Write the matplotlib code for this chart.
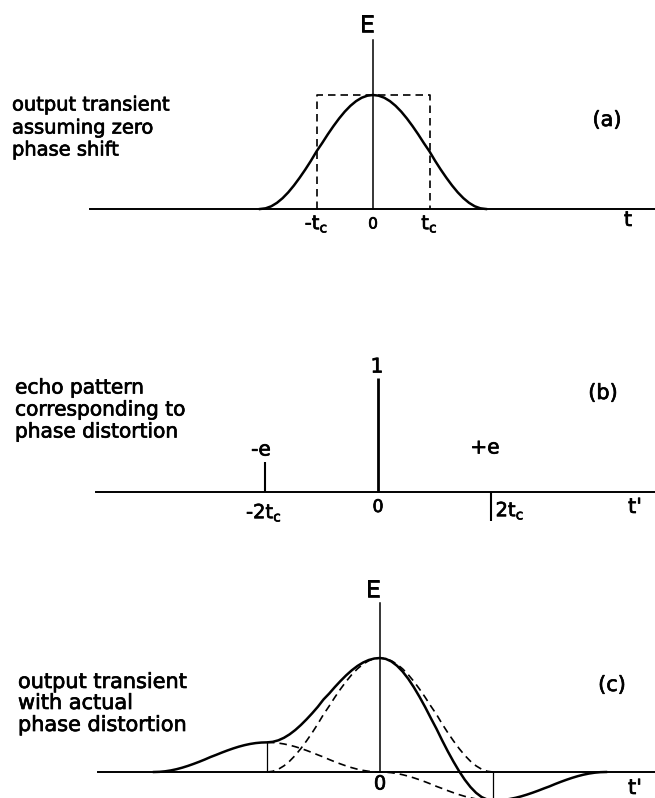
'''
Phase distortion sketch: ideal transient, echo pattern, distorted transient
'''
import numpy as np
import matplotlib
matplotlib.use('Agg')
from matplotlib import pyplot as plt
from matplotlib import patheffects

plt.rcParams['font.family'] = ['DejaVu Sans']
plt.rcParams['mathtext.default'] = 'regular'

# Half of the output pulse in (a)
# t in units of t_c, E relative to the peak
PULSE_T = [0.0, 0.1, 0.2, 0.3, 0.4, 0.5, 0.6, 0.7, 0.8, 0.9, 1.0,
           1.1, 1.2, 1.3, 1.4, 1.5, 1.6, 1.7, 1.8, 1.9, 2.0]
PULSE_E = [1.000, 0.994, 0.976, 0.946, 0.905, 0.854, 0.794, 0.727, 0.655, 0.578, 0.505,
           0.422, 0.345, 0.273, 0.206, 0.146, 0.095, 0.054, 0.024, 0.006, 0.000]

# Echo pattern in (b): position (units of t_c) and amplitude
ECHO_T = [-2.0, 0.0, 2.0]
ECHO_AMP = [0.26, 1.0, -0.25]
ECHO_LABELS = ['-e', '1', '+e']

# Tick labels on the time axes
TICKS_A = [-1.0, 0.0, 1.0]
TICK_LABELS_A = ['-t$_c$', '0', 't$_c$']
TICKS_B = [-2.0, 0.0, 2.0]
TICK_LABELS_B = ['-2t$_c$', '0', '2t$_c$']

CAPTION_A = ['output transient', 'assuming zero', 'phase shift']
CAPTION_B = ['echo pattern', 'corresponding to', 'phase distortion']
CAPTION_C = ['output transient', 'with actual', 'phase distortion']

W, H = 655, 798
SX = 56.5    # pixels per t_c
SY = 114.0   # pixels per unit of E
DASH = (0, (4.5, 3.0))
PEN = [patheffects.withStroke(linewidth=0.5, foreground='black')]

fig = plt.figure(figsize=(W / 100, H / 100), dpi=100)


def panel(x0, y0):
    '''Transparent axes over the whole figure, origin at pixel (x0, y0)'''
    ax = fig.add_axes([0, 0, 1, 1])
    ax.set_xlim(-x0 / SX, (W - x0) / SX)
    ax.set_ylim(-(H - y0) / SY, y0 / SY)
    ax.axis('off')
    # time axis
    ax.plot([-5.0, (W - x0) / SX], [0, 0], color='black', lw=1.4)
    return ax


def put(px, py, text, size, ha='center'):
    '''Write text at a pixel position'''
    fig.text(px / W, 1 - py / H, text, fontsize=size, ha=ha, va='center',
             path_effects=PEN)


def caption(px, rows_y, lines, size):
    for py, line in zip(rows_y, lines):
        put(px, py, line, size, ha='left')


# Full symmetric pulse
pulse_t = np.array([-t for t in PULSE_T[:0:-1]] + PULSE_T)
pulse_e = np.array(PULSE_E[:0:-1] + PULSE_E)


def pulse(t):
    return np.interp(t, pulse_t, pulse_e, left=0.0, right=0.0)


# ---------------- (a) ----------------
X0A, Y0A = 373, 209
ax_a = panel(X0A, Y0A)
ax_a.plot([0, 0], [0, 1.48], color='black', lw=1.1)
ax_a.plot(pulse_t, pulse_e, color='black', lw=1.8, solid_joinstyle='round')
ax_a.plot([TICKS_A[0], TICKS_A[0], TICKS_A[-1], TICKS_A[-1]], [0, 1, 1, 0],
          color='black', lw=1.2, linestyle=DASH)
put(367, 25, 'E', 17)
for t, lab in zip(TICKS_A, TICK_LABELS_A):
    put(X0A + t * SX, 224, lab, 11 if lab == '0' else 14)
put(628, 220, 't', 15)
put(607, 120, '(a)', 15)
caption(12, [105, 128, 150], CAPTION_A, 14)

# ---------------- (b) ----------------
X0B, Y0B = 378, 492
ax_b = panel(X0B, Y0B)
ax_b.vlines(ECHO_T, 0, ECHO_AMP, color='black', lw=[1.5, 2.0, 1.5])
for t, lab, dx, py in zip(ECHO_T, ECHO_LABELS, [-4, -1, -6], [450, 367, 448]):
    put(X0B + t * SX + dx, py, lab, 14.5)
for t, lab, dx, py in zip(TICKS_B, TICK_LABELS_B, [-1, 0, 19], [513, 507, 511]):
    put(X0B + t * SX + dx, py, lab, 12.5 if lab == '0' else 14)
put(635, 507, "t'", 15)
put(603, 393, '(b)', 15)
caption(15, [388, 410, 432], CAPTION_B, 14.5)

# ---------------- (c) ----------------
X0C, Y0C = 380, 772
ax_c = panel(X0C, Y0C)
tt = np.round(np.arange(-40, 41) / 10.0, 1)
total = sum(a * pulse(tt - t0) for t0, a in zip(ECHO_T, ECHO_AMP))
mid = (tt >= -2.0) & (tt <= 2.0)
echoes = ECHO_AMP[0] * pulse(tt - ECHO_T[0]) + ECHO_AMP[2] * pulse(tt - ECHO_T[2])

ax_c.plot([0, 0], [0, 1.48], color='black', lw=1.1)
ax_c.plot(pulse_t, pulse_e, color='black', lw=1.2, linestyle=DASH)
ax_c.plot(tt[mid], echoes[mid], color='black', lw=1.2, linestyle=DASH)
ax_c.plot(tt, total, color='black', lw=1.8, solid_joinstyle='round')
ax_c.vlines([ECHO_T[0], ECHO_T[2]], 0,
            [pulse(0.0) * ECHO_AMP[0], pulse(0.0) * ECHO_AMP[2]],
            color='black', lw=0.9)
put(373, 590, 'E', 17)
put(X0C, 784, '0', 14)
put(635, 788, "t'", 15)
put(612, 685, '(c)', 15)
caption(18, [682, 703, 725], CAPTION_C, 15)

fig.savefig('out.png', dpi=100)
